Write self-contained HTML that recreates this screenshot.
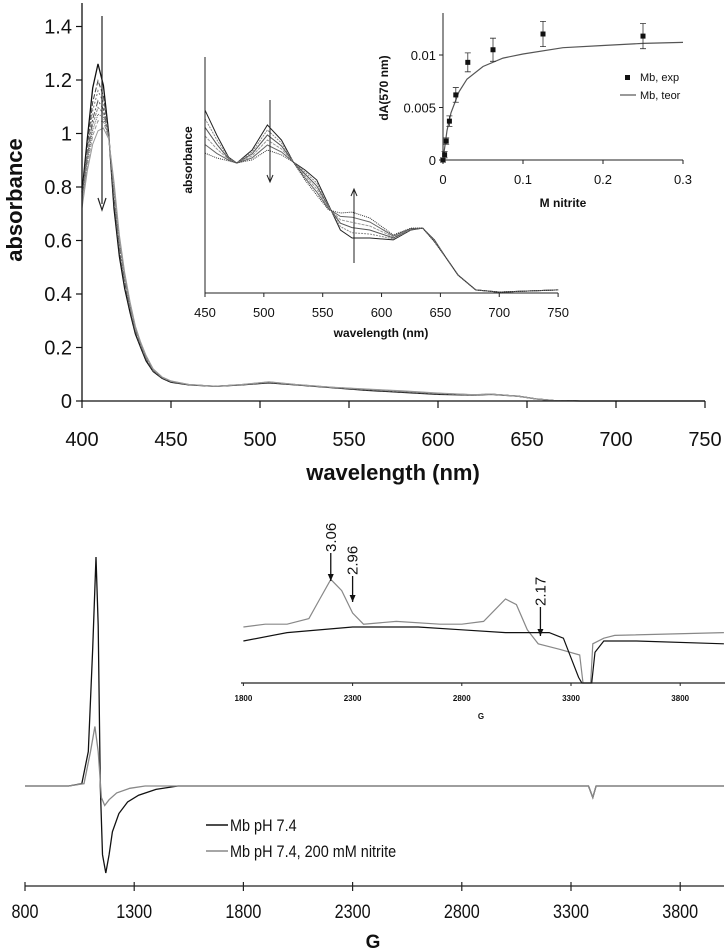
<!DOCTYPE html>
<html><head><meta charset="utf-8"><style>
html,body{margin:0;padding:0;background:#fff;}
svg{display:block;font-family:"Liberation Sans",Arial,sans-serif;}
</style></head><body>
<svg id="fig" width="725" height="952" viewBox="0 0 725 952" xmlns="http://www.w3.org/2000/svg">
<g id="top"></g>
<g id="inset1"></g>
<g id="inset2"></g>
<g id="epr"></g>
<g id="epr2"></g>
</svg>
<script>
// ---------- data: main UV-vis ----------
const wl = [400,403,406,409,412,415,418,421,424,427,430,433,436,440,445,450,460,475,490,505,520,540,560,580,600,620,630,645,655,665,680,700,750];
const absMb = [0.78,0.98,1.17,1.26,1.18,1.0,0.72,0.54,0.42,0.33,0.25,0.2,0.15,0.11,0.085,0.07,0.06,0.055,0.06,0.068,0.06,0.05,0.04,0.032,0.025,0.022,0.025,0.018,0.008,0.002,0,0,0];
const absNit = [0.72,0.86,0.96,1.01,1.02,0.98,0.82,0.62,0.48,0.37,0.28,0.22,0.17,0.12,0.09,0.075,0.062,0.055,0.062,0.072,0.062,0.052,0.045,0.038,0.03,0.024,0.026,0.018,0.008,0.002,0,0,0];
const mixFractions = [0,0.25,0.4,0.55,0.65,0.75,0.85,1];
const mainXTicks = [400,450,500,550,600,650,700,750];
const mainYTicks = [0,0.2,0.4,0.6,0.8,1,1.2,1.4];
const mainYLabels = ["0","0.2","0.4","0.6","0.8","1","1.2","1.4"];
// ---------- data: visible inset ----------
const insWl = [450,460,470,477,490,503,515,525,535,545,555,565,575,590,610,625,635,645,655,665,680,700,750];
const insMb = [0.775,0.669,0.576,0.551,0.606,0.712,0.648,0.555,0.521,0.479,0.373,0.267,0.233,0.233,0.225,0.267,0.275,0.225,0.148,0.076,0.013,0.004,0.013];
const insNit = [0.593,0.572,0.56,0.551,0.564,0.606,0.585,0.555,0.479,0.415,0.352,0.339,0.343,0.318,0.246,0.275,0.275,0.216,0.148,0.076,0.013,0.004,0.013];
const insFractions = [0,0.2,0.4,0.6,0.8,1];
const insXTicks = [450,500,550,600,650,700,750];
// ---------- data: titration ----------
const nitriteM = [0,0.002,0.004,0.008,0.016,0.031,0.0625,0.125,0.25];
const dA = [0,0.0005,0.0018,0.0037,0.0062,0.0093,0.0105,0.012,0.0118];
const dAerr = [0.0002,0.0003,0.0003,0.0005,0.0007,0.0009,0.0011,0.0012,0.0012];
const teorX = [0,0.005,0.01,0.02,0.03,0.05,0.075,0.1,0.15,0.2,0.25,0.3];
const teorY = [0,0.0028,0.0045,0.0065,0.0077,0.0089,0.0097,0.0101,0.0107,0.0109,0.0111,0.0112];
const titXTicks = [0,0.1,0.2,0.3];
const titYTicks = [0,0.005,0.01];
const titYLabels = ["0","0.005","0.01"];
// ---------- data: EPR ----------
const eprG = [800,1000,1060,1090,1110,1125,1135,1145,1155,1170,1185,1200,1230,1270,1320,1400,1500,3380,3400,3415,4000];
const eprMb = [0,0,0.01,0.15,0.6,1.0,0.7,0,-0.3,-0.38,-0.3,-0.2,-0.12,-0.07,-0.04,-0.015,0,0,-0.05,0,0];
const eprGNit = [800,1000,1070,1100,1120,1135,1150,1165,1185,1220,1280,1350,3380,3400,3415,4000];
const eprNit = [0,0,0.01,0.15,0.26,0.15,-0.05,-0.085,-0.06,-0.03,-0.01,0,0,-0.05,0,0];
const eprTicks = [800,1300,1800,2300,2800,3300,3800];
const zG = [1800,1900,2000,2100,2150,2200,2250,2300,2350,2500,2700,2800,2900,3000,3050,3100,3150,3250,3340,3355,3390,3400,3450,3500,4000];
const zNit = [0.2,0.21,0.21,0.23,0.3,0.37,0.33,0.25,0.21,0.22,0.21,0.21,0.22,0.3,0.28,0.19,0.14,0.12,0.1,0,0,0.14,0.16,0.17,0.18];
const zGMb = [1800,2000,2300,2600,2800,3000,3200,3265,3300,3335,3350,3395,3410,3450,3600,4000];
const zMb = [0.15,0.18,0.2,0.2,0.19,0.18,0.18,0.16,0.09,0.02,0,0,0.11,0.15,0.15,0.14];
const zTicks = [1800,2300,2800,3300,3800];
const gArrowG = [2200,2300,3160];
const gArrowTxt = ["3.06","2.96","2.17"];

const NS="http://www.w3.org/2000/svg";
function mk(parent,tag,attrs,text){const e=document.createElementNS(NS,tag);for(const k in attrs)e.setAttribute(k,attrs[k]);if(text!==undefined)e.textContent=text;parent.appendChild(e);return e;}
function pathD(xs,ys,fx,fy){return xs.map((x,i)=>(i?"L":"M")+fx(x).toFixed(1)+" "+fy(ys[i]).toFixed(1)).join(" ");}

// ===== main UV-vis =====
(function(){
const g=document.getElementById('top');
const X=v=>82+(v-400)*1.78, Y=v=>401-v*267.5;
const styles=[["#111","none",1.3],["#444","5 2",1],["#777","2 2",1],["#555","6 2 2 2",1],["#888","3 1",1],["#666","1 1",1],["#999","4 2",1],["#999","none",1]];
mixFractions.forEach((f,k)=>{
  const ys=absMb.map((a,i)=>a*(1-f)+absNit[i]*f);
  const p=mk(g,'path',{d:pathD(wl,ys,X,Y),fill:'none',stroke:styles[k][0],'stroke-dasharray':styles[k][1],'stroke-width':styles[k][2]});
  
  
});
const ax=mk(g,'path',{d:`M82 3 V401 H${X(750)}`,stroke:'#111',fill:'none','stroke-width':1.3});

mainXTicks.forEach(t=>{mk(g,'line',{x1:X(t),x2:X(t),y1:401,y2:408,stroke:'#111','stroke-width':1.2});
 const tx=mk(g,'text',{x:X(t),y:446,'font-size':20,'text-anchor':'middle',fill:'#111'},String(t));
 });
mainYTicks.forEach((t,i)=>{mk(g,'line',{x1:76,x2:82,y1:Y(t),y2:Y(t),stroke:'#111','stroke-width':1.2});
 const tx=mk(g,'text',{x:72,y:Y(t)+7,'font-size':20,'text-anchor':'end',fill:'#111'},mainYLabels[i]);
 });
const xt=mk(g,'text',{x:393,y:480,'font-size':22,'font-weight':'bold','text-anchor':'middle',fill:'#111'},'wavelength (nm)');

const yt=mk(g,'text',{x:0,y:0,'font-size':22,'font-weight':'bold','text-anchor':'middle',fill:'#111',transform:'translate(22,200) rotate(-90)'},'absorbance');

mk(g,'line',{x1:102,x2:102,y1:16,y2:204,stroke:'#222','stroke-width':1.2});
mk(g,'path',{d:'M98 198 L102 210 L106 198',fill:'none',stroke:'#222','stroke-width':1.2});
})();

// ===== visible inset =====
(function(){
const g=document.getElementById('inset1');
const X=v=>205+(v-450)*1.177, Y=v=>293-v*236;
const cols=["#222","#888","#555","#999","#666","#333"];
const dash=["none","2 1","none","3 1","none","1 1"];
insFractions.forEach((f,k)=>{
  const ys=insMb.map((a,i)=>a*(1-f)+insNit[i]*f);
  const p=mk(g,'path',{d:pathD(insWl,ys,X,Y),fill:'none',stroke:cols[k],'stroke-dasharray':dash[k],'stroke-width':1});
  
  
});
mk(g,'path',{d:`M205 57 V293 H${X(750)}`,stroke:'#222',fill:'none','stroke-width':1});
insXTicks.forEach(t=>{mk(g,'line',{x1:X(t),x2:X(t),y1:293,y2:297,stroke:'#222'});
 const tx=mk(g,'text',{x:X(t),y:317,'font-size':13,'text-anchor':'middle',fill:'#111'},String(t));
 });
const xt=mk(g,'text',{x:381,y:337,'font-size':12,'font-weight':'bold','text-anchor':'middle',fill:'#111'},'wavelength (nm)');

const yt=mk(g,'text',{x:0,y:0,'font-size':12,'font-weight':'bold','text-anchor':'middle',fill:'#111',transform:'translate(192,160) rotate(-90)'},'absorbance');

mk(g,'line',{x1:270,x2:270,y1:100,y2:181,stroke:'#222'});
mk(g,'path',{d:'M267 175 L270 182 L273 175',fill:'none',stroke:'#222'});
mk(g,'line',{x1:354,x2:354,y1:263,y2:190,stroke:'#222'});
mk(g,'path',{d:'M351 196 L354 189 L357 196',fill:'none',stroke:'#222'});
})();

// ===== titration =====
(function(){
const g=document.getElementById('inset2');
const X=v=>443+v*800, Y=v=>160-v*10500;
mk(g,'path',{d:`M443 13 V160 H${X(0.3)}`,stroke:'#222',fill:'none','stroke-width':1});
titXTicks.forEach(t=>{mk(g,'line',{x1:X(t),x2:X(t),y1:160,y2:164,stroke:'#222'});
 const tx=mk(g,'text',{x:X(t),y:184,'font-size':13,'text-anchor':'middle',fill:'#111'},String(t));
 });
titYTicks.forEach((t,i)=>{mk(g,'line',{x1:439,x2:443,y1:Y(t),y2:Y(t),stroke:'#222'});
 const tx=mk(g,'text',{x:436,y:Y(t)+5,'font-size':13,'text-anchor':'end',fill:'#111'},titYLabels[i]);
 });
const tl=mk(g,'path',{d:pathD(teorX,teorY,X,Y),fill:'none',stroke:'#555','stroke-width':1.2});

nitriteM.forEach((m,i)=>{
 const x=X(m),y=Y(dA[i]),e=dAerr[i]*10500;
 mk(g,'path',{d:`M${x} ${y-e} V${y+e} M${x-3} ${y-e} H${x+3} M${x-3} ${y+e} H${x+3}`,stroke:'#333',fill:'none','stroke-width':0.8});
 const r=mk(g,'rect',{x:x-2.5,y:y-2.5,width:5,height:5,fill:'#111'});
 
});
const xt=mk(g,'text',{x:563,y:207,'font-size':12,'font-weight':'bold','text-anchor':'middle',fill:'#111'},'M nitrite');

const yt=mk(g,'text',{x:0,y:0,'font-size':12,'font-weight':'bold','text-anchor':'middle',fill:'#111',transform:'translate(388,88) rotate(-90)'},'dA(570 nm)');

mk(g,'rect',{x:625,y:75,width:5,height:5,fill:'#111'});
const l1=mk(g,'text',{x:640,y:81,'font-size':11,fill:'#111'},'Mb, exp');

mk(g,'line',{x1:620,x2:636,y1:95,y2:95,stroke:'#555','stroke-width':1.2});
const l2=mk(g,'text',{x:640,y:99,'font-size':11,fill:'#111'},'Mb, teor');

})();

// ===== EPR main =====
(function(){
const g=document.getElementById('epr');
const X=v=>25+(v-800)*0.2184, Y=v=>786-v*229;
const pm=mk(g,'path',{d:pathD(eprG,eprMb,X,Y),fill:'none',stroke:'#111','stroke-width':1.3});

const pn=mk(g,'path',{d:pathD(eprGNit,eprNit,X,Y),fill:'none',stroke:'#888','stroke-width':1.3});

mk(g,'line',{x1:25,x2:724,y1:886,y2:886,stroke:'#222','stroke-width':1.3});
eprTicks.forEach(t=>{mk(g,'line',{x1:X(t),x2:X(t),y1:882,y2:891,stroke:'#222','stroke-width':1.2});
 const tx=mk(g,'text',{x:X(t),y:918,'font-size':19,'text-anchor':'middle',fill:'#111',transform:`translate(${X(t)} 0) scale(0.85 1) translate(${-X(t)} 0)`},String(t));
 });
const xt=mk(g,'text',{x:373,y:948,'font-size':19,'font-weight':'bold','text-anchor':'middle',fill:'#111'},'G');

mk(g,'line',{x1:206,x2:228,y1:825,y2:825,stroke:'#111','stroke-width':1.5});
const l1=mk(g,'text',{x:230,y:831,'font-size':17,fill:'#111',transform:'translate(230 0) scale(0.85 1) translate(-230 0)'},'Mb pH 7.4');

mk(g,'line',{x1:206,x2:228,y1:851,y2:851,stroke:'#888','stroke-width':1.5});
const l2=mk(g,'text',{x:230,y:857,'font-size':17,fill:'#111',transform:'translate(230 0) scale(0.85 1) translate(-230 0)'},'Mb pH 7.4, 200 mM nitrite');

})();

// ===== EPR inset =====
(function(){
const g=document.getElementById('epr2');
const X=v=>25+(v-800)*0.2184, Y=v=>683-v*280;
const pn=mk(g,'path',{d:pathD(zG,zNit,X,Y),fill:'none',stroke:'#888','stroke-width':1.2});

const pm=mk(g,'path',{d:pathD(zGMb,zMb,X,Y),fill:'none',stroke:'#111','stroke-width':1.2});

mk(g,'line',{x1:241,x2:725,y1:683,y2:683,stroke:'#222','stroke-width':1.2});
zTicks.forEach(t=>{mk(g,'line',{x1:X(t),x2:X(t),y1:683,y2:686,stroke:'#222'});
 const tx=mk(g,'text',{x:X(t),y:701,'font-size':8,'font-weight':'bold','text-anchor':'middle',fill:'#111'},String(t));
 });
const xt=mk(g,'text',{x:481,y:719,'font-size':8,'font-weight':'bold','text-anchor':'middle',fill:'#111'},'G');

const tops=[553,576,607], lens=[28,26,29];
gArrowG.forEach((v,i)=>{
 const x=X(v),y1=tops[i],y2=tops[i]+lens[i];
 mk(g,'line',{x1:x,x2:x,y1:y1,y2:y2,stroke:'#111','stroke-width':1.3});
 mk(g,'path',{d:`M${x-3} ${y2-7} L${x} ${y2} L${x+3} ${y2-7} Z`,fill:'#111'});
 const tx=mk(g,'text',{x:0,y:0,'font-size':15,fill:'#111',transform:`translate(${x+5},${y1-1}) rotate(-90)`},gArrowTxt[i]);
 
});
})();
</script>
</body></html>
